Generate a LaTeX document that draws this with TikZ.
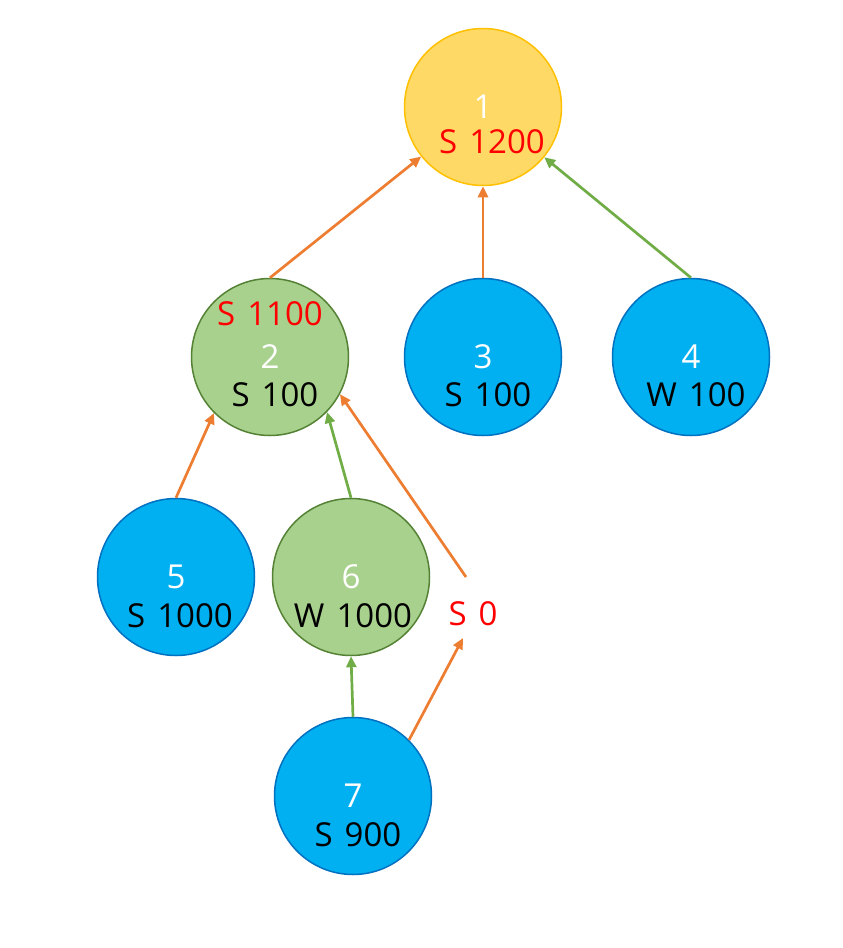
\documentclass[tikz,border=0pt]{standalone}
\usepackage{fontspec}
\setmainfont{Open Sans}[WordSpace=1.4]
\usetikzlibrary{arrows.meta}
\definecolor{yfill}{HTML}{FFD966}
\definecolor{ydraw}{HTML}{FFC000}
\definecolor{gfill}{HTML}{A9D18E}
\definecolor{gdraw}{HTML}{548235}
\definecolor{bfill}{HTML}{00B0F0}
\definecolor{bdraw}{HTML}{0070C0}
\definecolor{oarrow}{HTML}{ED7D31}
\definecolor{garrow}{HTML}{70AD47}
\begin{document}
\begin{tikzpicture}[x=1pt,y=-1pt,
  circ/.style={circle,minimum size=157pt,inner sep=0pt,line width=1.5pt},
  ynode/.style={circ,fill=yfill,draw=ydraw},
  gnode/.style={circ,fill=gfill,draw=gdraw},
  bnode/.style={circ,fill=bfill,draw=bdraw},
  txt/.style={inner sep=0pt,font=\fontsize{33}{38}\selectfont},
  wtxt/.style={txt,text=white},
  rtxt/.style={txt,text=red},
  ktxt/.style={txt,text=black},
  oarr/.style={draw=oarrow,line width=2.7pt,-{Triangle[length=11pt,width=10pt]}},
  garr/.style={draw=garrow,line width=2.7pt,-{Triangle[length=11pt,width=10pt]}}]
\useasboundingbox (0,0) rectangle (843,948);
\node[ynode] (n1) at (483,107) {};
\node[gnode] (n2) at (270,357) {};
\node[bnode] (n3) at (483,357) {};
\node[bnode] (n4) at (691,357) {};
\node[bnode] (n5) at (176,577) {};
\node[gnode] (n6) at (351,577) {};
\node[bnode] (n7) at (353,796) {};
% labels
\node[wtxt] (l1) at (483,107) {1};
\node[rtxt] (v1) at (492,142) {S 1200};
\node[rtxt] (v2a) at (270,314) {S 1100};
\node[wtxt] (l2) at (270,357) {2};
\node[ktxt] (v2) at (275,395) {S 100};
\node[wtxt] (l3) at (483,357) {3};
\node[ktxt] (v3) at (488,395) {S 100};
\node[wtxt] (l4) at (691,357) {4};
\node[ktxt] (v4) at (696,395) {W 100};
\node[wtxt] (l5) at (176,577) {5};
\node[ktxt] (v5) at (180,616) {S 1000};
\node[wtxt] (l6) at (351,577) {6};
\node[ktxt] (v6) at (353,616) {W 1000};
\node[wtxt] (l7) at (353,796) {7};
\node[ktxt] (v7) at (358,835) {S 900};
\node[rtxt] (s0) at (473,614) {S 0};
\coordinate (s0top) at (466,577);
\coordinate (s0bot) at (463,638);
% arrows
\draw[oarr] (n2.north) -- (n1);
\draw[oarr] (n3.north) -- (n1.south);
\draw[garr] (n4.north) -- (n1);
\draw[oarr] (n5.north) -- (n2.225);
\draw[garr] (n6.north) -- (n2.-44);
\draw[oarr] (s0top) -- (n2.-28);
\draw[garr] (n7.north) -- (n6.south);
\draw[oarr] (n7.45) -- (s0bot);
\end{tikzpicture}
\end{document}
